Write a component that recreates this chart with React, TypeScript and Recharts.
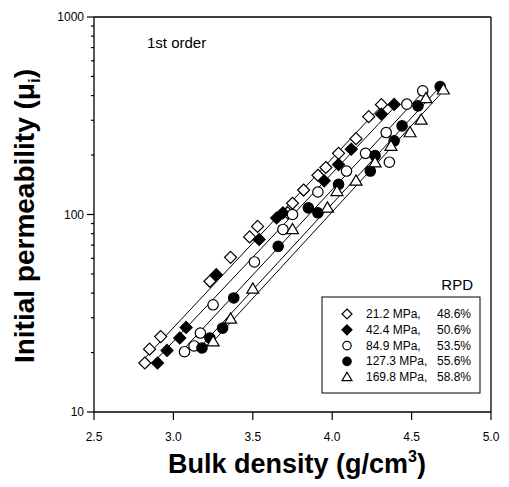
import React from 'react'
import { ReferenceLine, Scatter, ScatterChart, XAxis, YAxis } from 'recharts'

const FONT = 'Arial, "Liberation Sans", sans-serif'

// axis ticks
const xTicks = [2.5, 3.0, 3.5, 4.0, 4.5, 5.0]
const yMajor = [10, 100, 1000]
const yTicks = [10, 20, 30, 40, 50, 60, 70, 80, 90, 100, 200, 300, 400, 500, 600, 700, 800, 900, 1000]

// legend text
const pressures = ['21.2 MPa,', '42.4 MPa,', '84.9 MPa,', '127.3 MPa,', '169.8 MPa,']
const rpd = ['48.6%', '50.6%', '53.5%', '55.6%', '58.8%']

// measured points, one pair of arrays per compaction pressure
const x212 = [2.82, 2.85, 2.92, 3.23, 3.36, 3.48, 3.53, 3.72, 3.75, 3.82, 3.91, 3.96, 4.04, 4.15, 4.23, 4.31]
const y212 = [17.7, 20.8, 24.1, 45.9, 60.7, 77, 87, 102, 114, 133, 158, 173, 204, 242, 313, 360]

const x424 = [2.9, 2.96, 3.04, 3.08, 3.27, 3.54, 3.65, 3.69, 3.95, 4.04, 4.12, 4.31, 4.39]
const y424 = [17.7, 20.5, 23.7, 26.8, 49.6, 74.7, 96, 102, 148, 179, 214, 322, 361]

const x849 = [3.07, 3.13, 3.17, 3.25, 3.51, 3.69, 3.75, 3.91, 4.09, 4.21, 4.34, 4.36, 4.47, 4.57]
const y849 = [20.2, 21.6, 25.1, 34.9, 57.5, 84, 100, 130, 166, 204, 260, 184, 362, 423]

const x1273 = [3.18, 3.23, 3.31, 3.38, 3.66, 3.85, 3.91, 4.04, 4.24, 4.27, 4.39, 4.44, 4.54, 4.68]
const y1273 = [21.1, 23.7, 26.6, 37.8, 69, 108, 102, 142, 166, 199, 236, 281, 355, 444]

const x1698 = [3.25, 3.36, 3.5, 3.75, 3.97, 4.03, 4.15, 4.27, 4.37, 4.49, 4.56, 4.59, 4.7]
const y1698 = [22.7, 29.6, 42, 84, 108, 131, 148, 183, 222, 260, 301, 387, 428]

const fitX = [
  [2.8, 4.31],
  [2.88, 4.4],
  [3.06, 4.57],
  [3.17, 4.68],
  [3.24, 4.71],
]
const fitY = [
  [18.0, 355],
  [18.0, 355],
  [20.6, 415],
  [21.4, 444],
  [22.3, 431],
]

type Pt = { x: number; y: number }
const zip = (xs: number[], ys: number[]): Pt[] => xs.map((x, i) => ({ x, y: ys[i] }))

const kinds = ['diamondOpen', 'diamondFilled', 'circleOpen', 'circleFilled', 'triangleOpen']
const points = [zip(x212, y212), zip(x424, y424), zip(x849, y849), zip(x1273, y1273), zip(x1698, y1698)]
const fits = fitX.map((xs, i) => zip(xs, fitY[i]))

function Marker({ kind, cx, cy, r = 6 }: { kind: string; cx: number; cy: number; r?: number }) {
  const sw = 1.2
  if (kind === 'diamondOpen' || kind === 'diamondFilled') {
    const d = `M${cx},${cy - r}L${cx + r},${cy}L${cx},${cy + r}L${cx - r},${cy}Z`
    return <path d={d} fill={kind === 'diamondOpen' ? '#fff' : '#000'} stroke="#000" strokeWidth={sw} />
  }
  if (kind === 'circleOpen' || kind === 'circleFilled') {
    return <circle cx={cx} cy={cy} r={r - 0.8} fill={kind === 'circleOpen' ? '#fff' : '#000'} stroke="#000" strokeWidth={sw} />
  }
  const d = `M${cx},${cy - r}L${cx + r},${cy + r * 0.7}L${cx - r},${cy + r * 0.7}Z`
  return <path d={d} fill="#fff" stroke="#000" strokeWidth={sw} />
}

const YTick = (p: any) => {
  const v = p.payload.value
  const major = yMajor.includes(v)
  return (
    <g>
      <line x1={p.x - (major ? 7 : 3)} x2={p.x} y1={p.y} y2={p.y} stroke="#000" strokeWidth={1.2} />
      {major && (
        <text x={p.x - 10} y={p.y + 4} textAnchor="end" fontSize={12} fontFamily={FONT} fill="#000">
          {v}
        </text>
      )}
    </g>
  )
}

const XTick = (p: any) => (
  <g>
    <line x1={p.x} x2={p.x} y1={p.y} y2={p.y + 8} stroke="#000" strokeWidth={1.2} />
    <text x={p.x} y={p.y + 29} textAnchor="middle" fontSize={12} fontFamily={FONT} fill="#000">
      {p.payload.value.toFixed(1)}
    </text>
  </g>
)

const YTitle = () => {
  const cx = 34
  const cy = 216
  return (
    <text
      x={cx}
      y={cy}
      transform={`rotate(-90, ${cx}, ${cy})`}
      textAnchor="middle"
      fontSize={28}
      fontWeight="bold"
      fontFamily={FONT}
      fill="#000"
    >
      Initial permeability (μ
      <tspan dy={6} fontSize={17}>i</tspan>
      <tspan dy={-6}>)</tspan>
    </text>
  )
}

const XTitle = () => (
  <text x={297} y={473} textAnchor="middle" fontSize={27} fontWeight="bold" fontFamily={FONT} fill="#000">
    Bulk density (g/cm
    <tspan dy={-11} fontSize={16}>3</tspan>
    <tspan dy={11}>)</tspan>
  </text>
)

export default function App() {
  return (
    <div style={{ position: 'absolute', left: 0, top: 0, width: 509, height: 487, background: '#fff' }}>
      <ScatterChart width={509} height={487} margin={{ top: 17, right: 18, left: 20, bottom: 45 }}>
        <XAxis
          type="number"
          dataKey="x"
          domain={[2.5, 5]}
          ticks={xTicks}
          tick={XTick}
          tickSize={0}
          tickMargin={0}
          tickLine={false}
          axisLine={{ stroke: '#000', strokeWidth: 1.3 }}
          height={30}
          allowDataOverflow
          label={{ content: XTitle }}
        />
        <YAxis
          type="number"
          dataKey="y"
          scale="log"
          domain={[10, 1000]}
          ticks={yTicks}
          tick={YTick}
          tickSize={0}
          tickMargin={0}
          tickLine={false}
          interval={0}
          axisLine={{ stroke: '#000', strokeWidth: 1.3 }}
          width={74}
          allowDataOverflow
          label={{ content: YTitle }}
        />
        <ReferenceLine y={1000} stroke="#000" strokeWidth={1.3} />
        <ReferenceLine x={5} stroke="#000" strokeWidth={1.3} />
        {fits.map((f, i) => (
          <Scatter
            key={`fit${i}`}
            data={f}
            line={{ stroke: '#000', strokeWidth: 1 }}
            shape={() => <g />}
            isAnimationActive={false}
          />
        ))}
        {points.map((pts, i) => (
          <Scatter
            key={`pts${i}`}
            data={pts}
            shape={(p: any) => <Marker kind={kinds[i]} cx={p.cx} cy={p.cy} />}
            isAnimationActive={false}
          />
        ))}
      </ScatterChart>
      <svg width={509} height={487} style={{ position: 'absolute', left: 0, top: 0, pointerEvents: 'none' }}>
        <text x={147} y={48} fontSize={15} fontFamily={FONT} fill="#000">
          1st order
        </text>
        <text x={473} y={290} textAnchor="end" fontSize={15} fontFamily={FONT} fill="#000">
          RPD
        </text>
        <rect x={322} y={297} width={158} height={96} fill="#fff" stroke="#000" strokeWidth={1} />
        {pressures.map((p, i) => {
          const cy = 314 + i * 15.8
          return (
            <g key={p}>
              <Marker kind={kinds[i]} cx={347} cy={cy} r={5} />
              <text x={366} y={cy + 4} fontSize={12} fontFamily={FONT} fill="#000">
                {p}
              </text>
              <text x={471} y={cy + 4} textAnchor="end" fontSize={12} fontFamily={FONT} fill="#000">
                {rpd[i]}
              </text>
            </g>
          )
        })}
      </svg>
    </div>
  )
}
